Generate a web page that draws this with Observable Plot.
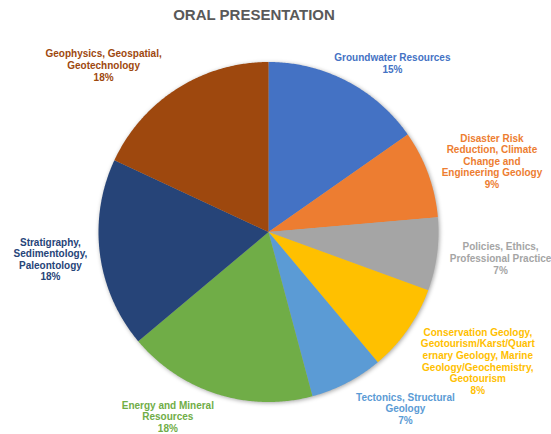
<!DOCTYPE html>
<html>
<head>
<meta charset="utf-8">
<script src="https://cdn.jsdelivr.net/npm/d3@7"></script>
<script src="https://cdn.jsdelivr.net/npm/@observablehq/plot@0.6"></script>
<style>
  html, body { margin: 0; padding: 0; background: #fff; }
  #chart svg { display: block; }
  #chart g[aria-label="line"] { filter: drop-shadow(1px 1px 2px rgba(0,0,0,0.35)); }
</style>
</head>
<body>
<div id="chart"></div>
<script>
// ---- data ----
const title = "ORAL PRESENTATION";
const categories = [
  "Groundwater Resources",
  "Disaster Risk\nReduction, Climate\nChange and\nEngineering Geology",
  "Policies, Ethics,\nProfessional Practice",
  "Conservation Geology,\nGeotourism/Karst/Quart\nernary Geology, Marine\nGeology/Geochemistry,\nGeotourism",
  "Tectonics, Structural\nGeology",
  "Energy and Mineral\nResources",
  "Stratigraphy,\nSedimentology,\nPaleontology",
  "Geophysics, Geospatial,\nGeotechnology"
];
const values = [11, 6, 5, 6, 5, 13, 13, 13];
const percentLabels = ["15%", "9%", "7%", "8%", "7%", "18%", "18%", "18%"];
const colors = ["#4472C4", "#ED7D31", "#A5A5A5", "#FFC000", "#5B9BD5", "#70AD47", "#264478", "#9E480E"];

// ---- layout ----
const W = 551, H = 434;
const cx = 268, cy = 231.5, R = 170;      // pixel center & radius
const labelR = 225 / R;                    // label distance in radius units
const labelNudge = [[20, 31], [12, 6], [9, -3], [25, 0], [33, -23], [-33, -30], [5, -2], [-44, 23]];

const total = d3.sum(values);
const slicePts = [];
const labels = [];
let acc = 0;
values.forEach((v, i) => {
  const a0 = acc / total * 2 * Math.PI;
  acc += v;
  const a1 = acc / total * 2 * Math.PI;
  slicePts.push({cat: categories[i], x: 0, y: 0});
  const n = Math.max(2, Math.ceil((a1 - a0) / (Math.PI / 360)));
  for (let k = 0; k <= n; k++) {
    const a = a0 + (a1 - a0) * k / n;
    slicePts.push({cat: categories[i], x: Math.sin(a), y: Math.cos(a)});
  }
  slicePts.push({cat: categories[i], x: 0, y: 0});
  const am = (a0 + a1) / 2;
  labels.push({
    cat: categories[i],
    text: categories[i] + "\n" + percentLabels[i],
    x: labelR * Math.sin(am),
    y: labelR * Math.cos(am),
    dx: labelNudge[i][0],
    dy: labelNudge[i][1]
  });
});

const chart = Plot.plot({
  width: W,
  height: H,
  margin: 0,
  style: {fontFamily: "'Liberation Sans', Arial, sans-serif", background: "#fff"},
  x: {domain: [-cx / R, (W - cx) / R], axis: null},
  y: {domain: [-(H - cy) / R, cy / R], axis: null},
  color: {domain: categories, range: colors},
  marks: [
    Plot.line(slicePts, {x: "x", y: "y", z: "cat", fill: "cat", stroke: "none", curve: "linear"}),
    ...labels.map(l => Plot.text([l], {
      x: "x", y: "y", text: "text", fill: "cat",
      dx: l.dx, dy: l.dy,
      fontSize: 10, fontWeight: "bold", lineHeight: 1.16,
      textAnchor: "middle", lineAnchor: "middle"
    })),
    Plot.text([title], {
      text: d => d, frameAnchor: "top", dx: -22, dy: 9, lineAnchor: "top",
      fontSize: 15, fontWeight: "bold", fill: "#595959"
    })
  ]
});
document.getElementById("chart").appendChild(chart);
</script>
</body>
</html>
